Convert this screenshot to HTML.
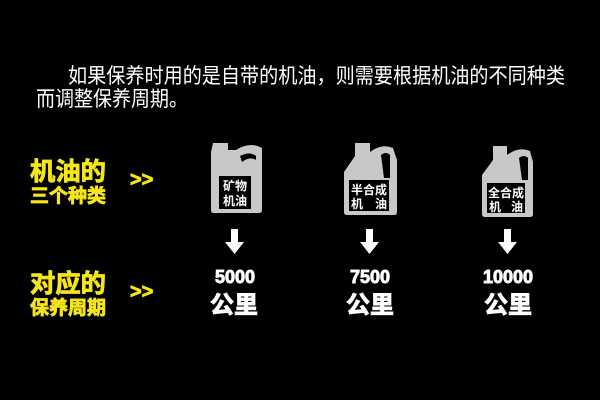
<!DOCTYPE html>
<html><head><meta charset="utf-8"><style>
html,body{margin:0;padding:0;background:#000;width:600px;height:400px;overflow:hidden}
svg{display:block}
text{font-family:"Liberation Sans","Noto Sans CJK SC",sans-serif}
</style></head><body>
<svg width="600" height="400" viewBox="0 0 600 400">
<rect width="600" height="400" fill="#000"/>
<text x="68" y="83" font-size="21" fill="#fff" textLength="497" lengthAdjust="spacingAndGlyphs">如果保养时用的是自带的机油，则需要根据机油的不同种类</text>
<text x="36" y="106" font-size="21" fill="#fff" textLength="152" lengthAdjust="spacingAndGlyphs">而调整保养周期。</text>

<g fill="#f5e61a" stroke="#f5e61a" stroke-width="0.8" font-weight="bold">
<text x="30" y="180" font-size="25" textLength="76" lengthAdjust="spacingAndGlyphs">机油的</text>
<text x="30" y="202" font-size="19" textLength="76" lengthAdjust="spacingAndGlyphs">三个种类</text>
<text x="130" y="186" font-size="20">&gt;&gt;</text>
<text x="30" y="292" font-size="25" textLength="76" lengthAdjust="spacingAndGlyphs">对应的</text>
<text x="30" y="314" font-size="19" textLength="76" lengthAdjust="spacingAndGlyphs">保养周期</text>
<text x="130" y="298" font-size="20">&gt;&gt;</text>
</g>

<g fill="#c8c8c8">
<path d="M213 143 L228 143 L228 150 L236 150 Q250 141 262 148 L262 210 Q262 213 259 213 L214 213 Q211 213 211 210 L211 152 Z"/>
<path d="M355 143 L370 143 L370 152 Q382 143 393 148 L397 160 L397 212 Q397 215 394 215 L347 215 Q344 215 344 212 L344 172 L355 156 Z"/>
<path d="M493 146 L507 146 L507 155 Q519 146 530 151 L533 162 L533 214 Q533 217 530 217 L485 217 Q482 217 482 214 L482 175 L493 160 Z"/>
</g>
<g fill="#000">
<path d="M240 156 Q250 151 256 156 L256 160 Q250 156 242 162 Z"/>
<path d="M381 155 Q386 151 390 155 L390 178 L384 178 Z"/>
<path d="M519 158 Q524 154 528 158 L528 180 L522 180 Z"/>
<rect x="219" y="176" width="32" height="33"/>
<rect x="349" y="180" width="40" height="31"/>
<rect x="487" y="183" width="38" height="30"/>
</g>
<g fill="#fff" font-weight="bold" font-size="12">
<text x="235" y="190" text-anchor="middle">矿物</text>
<text x="235" y="205" text-anchor="middle">机油</text>
<text x="369" y="194" text-anchor="middle">半合成</text>
<text x="369" y="208" text-anchor="middle" textLength="36" lengthAdjust="spacing">机　油</text>
<text x="506" y="197" text-anchor="middle">全合成</text>
<text x="506" y="211" text-anchor="middle" textLength="34" lengthAdjust="spacing">机　油</text>
</g>

<g fill="#fff">
<path d="M231 229 h7 v13 h6 l-9.5 12 l-9.5 -12 h6 z"/>
<path d="M366 229 h7 v13 h6 l-9.5 12 l-9.5 -12 h6 z"/>
<path d="M504 229 h7 v13 h6 l-9.5 12 l-9.5 -12 h6 z"/>
</g>
<g fill="#fff" stroke="#fff" stroke-width="0.9" font-weight="bold" text-anchor="middle">
<text x="235" y="283" font-size="18">5000</text>
<text x="370" y="283" font-size="18">7500</text>
<text x="508" y="283" font-size="18">10000</text>
<text x="234" y="313" font-size="24">公里</text>
<text x="370" y="313" font-size="24">公里</text>
<text x="508" y="313" font-size="24">公里</text>
</g>
</svg>
</body></html>
